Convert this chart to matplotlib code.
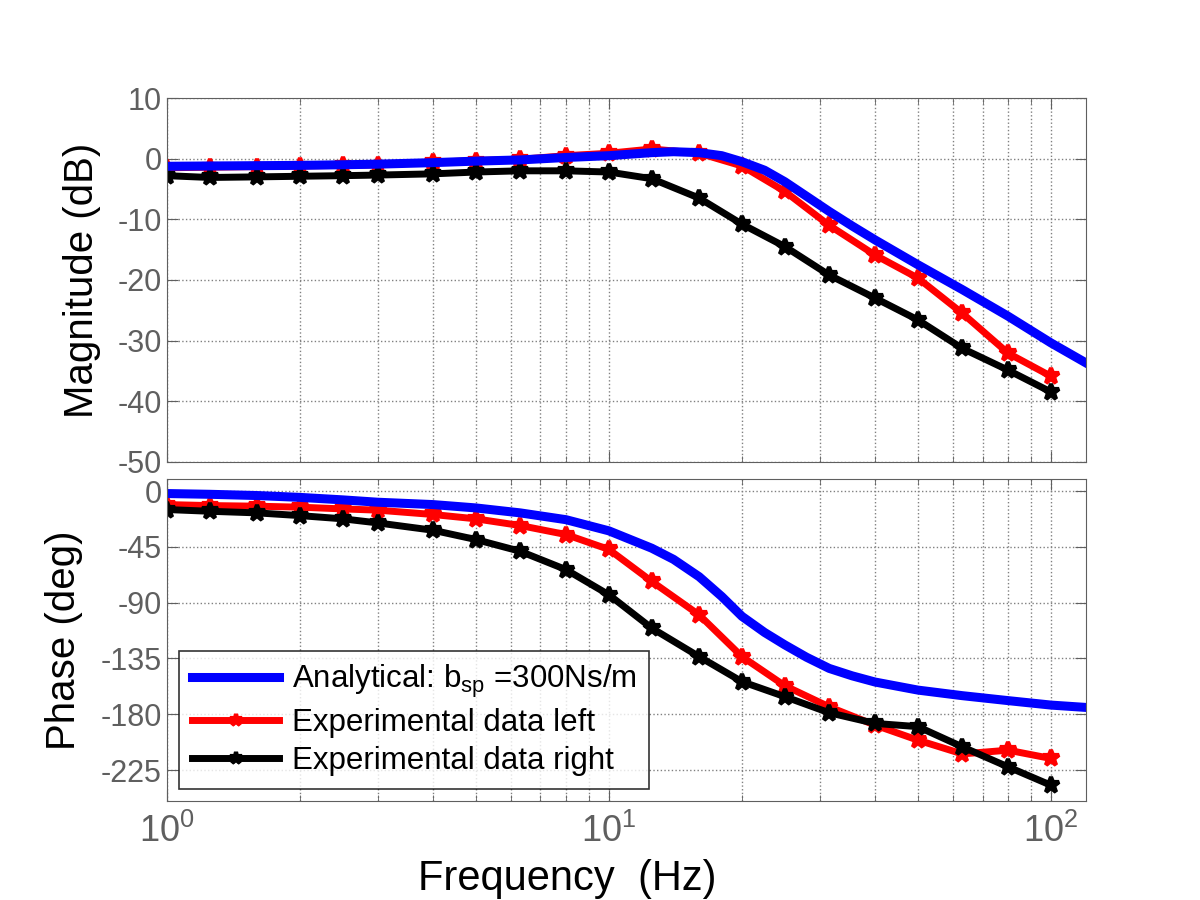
import numpy as np
import matplotlib
matplotlib.use("Agg")
import matplotlib.pyplot as plt
from matplotlib.ticker import LogLocator, NullFormatter, FuncFormatter

plt.rcParams['font.family'] = ['Liberation Sans', 'DejaVu Sans']
plt.rcParams['mathtext.fontset'] = 'custom'
plt.rcParams['mathtext.rm'] = 'Liberation Sans'
plt.rcParams['mathtext.it'] = 'Liberation Sans'
plt.rcParams['axes.unicode_minus'] = False

# measured frequencies (Hz)
freq = [1, 1.25, 1.6, 2, 2.5, 3, 4, 5, 6.3, 8, 10, 12.5, 16, 20, 25, 31.5, 40, 50, 63, 80, 100]
mag_left = [-1.5, -1.4, -1.3, -1.2, -1.1, -1.0, -0.6, -0.3, -0.1, 0.5, 0.9, 1.6, 0.9, -1.2,
            -5.4, -11.0, -15.9, -19.7, -25.5, -32.1, -35.9]
mag_right = [-2.8, -3.1, -3.0, -2.9, -2.8, -2.7, -2.5, -2.2, -2.0, -2.0, -2.2, -3.3, -6.5, -10.8,
             -14.5, -19.2, -23.0, -26.6, -31.3, -34.9, -38.5]
ph_left = [-10.8, -11.6, -12.1, -12.9, -14.3, -15.3, -18.8, -22.3, -27.7, -35.0, -47.0, -72.8,
           -99.8, -133.5, -157.0, -174.0, -188.8, -200.9, -212.0, -209.0, -215.7]
ph_right = [-14.8, -16.2, -17.5, -19.7, -22.3, -25.6, -31.5, -39.0, -48.5, -63.3, -83.6, -110.5,
            -133.5, -153.7, -165.8, -178.8, -187.4, -190.0, -206.3, -222.5, -237.3]

# analytical curve
freq_an = [1, 1.25, 1.6, 2, 2.5, 3, 4, 5, 6.3, 8, 10, 12.5, 14, 16, 18, 20, 22.5, 25, 28,
           31.5, 35.5, 40, 50, 63, 80, 100, 120]
mag_an = [-1.25, -1.2, -1.15, -1.1, -1.0, -0.9, -0.65, -0.4, -0.2, 0.2, 0.5, 1.0, 1.15, 1.0,
          0.5, -0.5, -1.9, -3.8, -6.2, -8.7, -11.1, -13.4, -17.5, -21.6, -26.0, -30.4, -33.7]
ph_an = [-1.9, -2.5, -3.5, -5.0, -7.0, -8.9, -10.8, -13.5, -17.5, -23.0, -32.0, -46.0, -55.0,
         -69.0, -85.0, -101.0, -114.0, -124.0, -134.0, -143.0, -149.0, -154.0, -160.5, -165.0,
         -169.0, -172.6, -174.5]

gray = '#5f5f5f'

fig = plt.figure(figsize=(12, 9), dpi=100)
ax1 = fig.add_axes([0.139, 0.487, 0.766, 0.404])
ax2 = fig.add_axes([0.139, 0.110, 0.766, 0.358])

line_kw = dict(lw=5, marker='*', ms=12, mew=3)
for ax, an, left, right in [(ax1, mag_an, mag_left, mag_right), (ax2, ph_an, ph_left, ph_right)]:
    ax.semilogx(freq_an, an, color='#0000ff', lw=6.5, zorder=2.3,
                label='Analytical: b$_{\\rm sp}$ =300Ns/m')
    ax.semilogx(freq, left, color='#ff0000', mec='#ff0000', zorder=2.1,
                label='Experimental data left', **line_kw)
    ax.semilogx(freq, right, color='black', mec='black', zorder=2.2,
                label='Experimental data right', **line_kw)
    ax.set_xlim(1, 120)
    ax.xaxis.set_major_locator(LogLocator(base=10, numticks=5))
    ax.xaxis.set_minor_locator(LogLocator(base=10, subs=np.arange(2, 10), numticks=20))
    ax.xaxis.set_minor_formatter(NullFormatter())
    ax.grid(True, which='major', ls=':', color='#808080', lw=1)
    ax.grid(True, which='minor', axis='x', ls=':', color='#808080', lw=1)
    ax.tick_params(which='both', direction='in', top=True, right=True, colors=gray,
                   labelsize=22, labelcolor=gray)
    ax.tick_params(which='major', length=8)
    ax.tick_params(which='minor', length=4)
    for s in ax.spines.values():
        s.set_color(gray)

ax1.set_ylim(-50, 10)
ax1.set_yticks(np.arange(-50, 11, 10))
ax1.tick_params(labelbottom=False)
ax1.set_ylabel('Magnitude (dB)', fontsize=29, labelpad=12)

ax2.set_ylim(-250, 10)
ax2.set_yticks([0, -45, -90, -135, -180, -225])
ax2.set_ylabel('Phase (deg)', fontsize=29, labelpad=13)
ax2.xaxis.set_major_formatter(FuncFormatter(
    lambda v, p: '$\\mathregular{10^{%d}}$' % int(round(np.log10(v)))))
ax2.tick_params(axis='x', which='major', pad=9, labelsize=26)

fig.text(0.473, 0.0115, 'Frequency  (Hz)', fontsize=30, ha='center', va='baseline')

leg = ax2.legend(loc='lower left', fontsize=22.5, frameon=True, fancybox=False,
                 edgecolor='black', handlelength=2.8, borderaxespad=0.4,
                 borderpad=0.4, labelspacing=0.25, handletextpad=0.4)
leg.get_frame().set_linewidth(1.2)
for h in leg.legend_handles:
    h.set_markersize(9)

fig.savefig('out.png', dpi=100, facecolor='white')
